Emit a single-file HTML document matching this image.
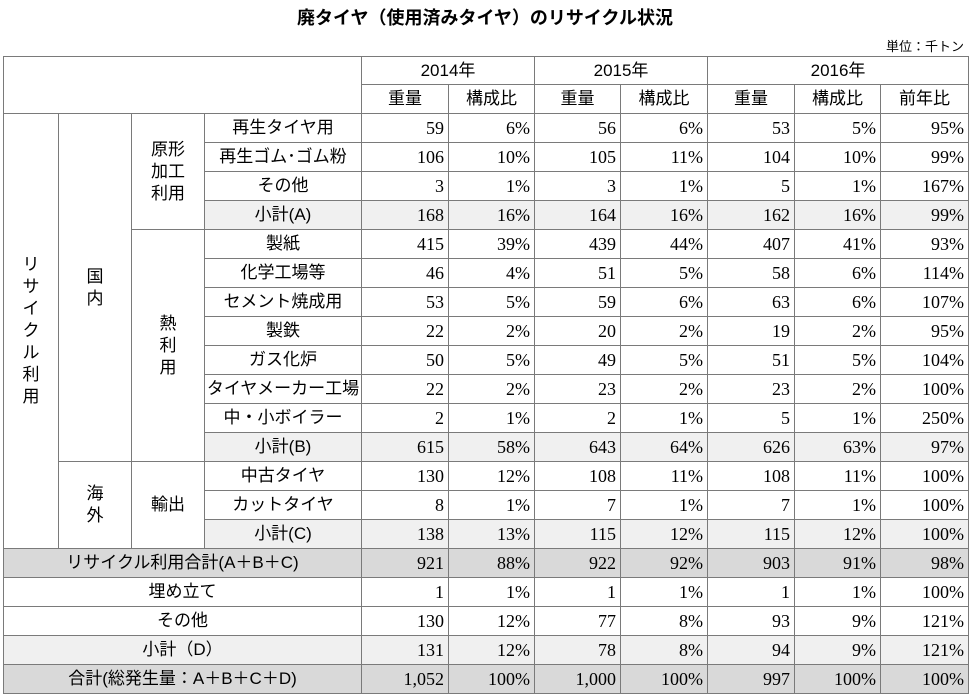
<!DOCTYPE html>
<html><head><meta charset="utf-8"><style>
body{margin:0;width:970px;height:696px;background:#fff;position:relative;overflow:hidden;font-family:"Liberation Sans","Noto Sans CJK JP",sans-serif;}
.title{position:absolute;top:4px;left:0;width:970px;text-align:center;font-size:18px;font-weight:bold;}
.unit{position:absolute;top:36px;right:6px;font-size:13px;}
table{position:absolute;left:3px;top:56px;border-collapse:collapse;table-layout:fixed;width:965px;}
td{border:1px solid #7a7a7a;padding:0;font-size:17px;height:28px;text-align:center;line-height:20px;}
td.n{font-family:"Liberation Serif",serif;font-size:18px;text-align:right;padding-right:4px;}
tr.h1 td{height:27px;}
tr.h2 td{height:28px;}
.g td.s,.g td.n{background:#f0f0f0;}
.t td{background:#d9d9d9;}
.l td{background:#f0f0f0;}
.v{line-height:22px;}
</style></head><body>
<div class="title">廃タイヤ（使用済みタイヤ）のリサイクル状況</div>
<div class="unit">単位：千トン</div>
<table>
<colgroup><col style="width:55px"><col style="width:73px"><col style="width:73px"><col style="width:157px"><col style="width:87px"><col style="width:86px"><col style="width:86px"><col style="width:87px"><col style="width:87px"><col style="width:86px"><col style="width:88px"></colgroup>
<tr class="h1"><td colspan="4" rowspan="2"></td><td colspan="2">2014年</td><td colspan="2">2015年</td><td colspan="3">2016年</td></tr>
<tr class="h2"><td>重量</td><td>構成比</td><td>重量</td><td>構成比</td><td>重量</td><td>構成比</td><td>前年比</td></tr>
<tr><td rowspan="15" class="v">リ<br>サ<br>イ<br>ク<br>ル<br>利<br>用</td><td rowspan="12" class="v">国<br>内</td><td rowspan="4" class="v">原形<br>加工<br>利用</td><td>再生タイヤ用</td><td class="n">59</td><td class="n">6%</td><td class="n">56</td><td class="n">6%</td><td class="n">53</td><td class="n">5%</td><td class="n">95%</td></tr>
<tr><td>再生ゴム･ゴム粉</td><td class="n">106</td><td class="n">10%</td><td class="n">105</td><td class="n">11%</td><td class="n">104</td><td class="n">10%</td><td class="n">99%</td></tr>
<tr><td>その他</td><td class="n">3</td><td class="n">1%</td><td class="n">3</td><td class="n">1%</td><td class="n">5</td><td class="n">1%</td><td class="n">167%</td></tr>
<tr class="g"><td class="s">小計(A)</td><td class="n">168</td><td class="n">16%</td><td class="n">164</td><td class="n">16%</td><td class="n">162</td><td class="n">16%</td><td class="n">99%</td></tr>
<tr><td rowspan="8" class="v">熱<br>利<br>用</td><td>製紙</td><td class="n">415</td><td class="n">39%</td><td class="n">439</td><td class="n">44%</td><td class="n">407</td><td class="n">41%</td><td class="n">93%</td></tr>
<tr><td>化学工場等</td><td class="n">46</td><td class="n">4%</td><td class="n">51</td><td class="n">5%</td><td class="n">58</td><td class="n">6%</td><td class="n">114%</td></tr>
<tr><td>セメント焼成用</td><td class="n">53</td><td class="n">5%</td><td class="n">59</td><td class="n">6%</td><td class="n">63</td><td class="n">6%</td><td class="n">107%</td></tr>
<tr><td>製鉄</td><td class="n">22</td><td class="n">2%</td><td class="n">20</td><td class="n">2%</td><td class="n">19</td><td class="n">2%</td><td class="n">95%</td></tr>
<tr><td>ガス化炉</td><td class="n">50</td><td class="n">5%</td><td class="n">49</td><td class="n">5%</td><td class="n">51</td><td class="n">5%</td><td class="n">104%</td></tr>
<tr><td>タイヤメーカー工場</td><td class="n">22</td><td class="n">2%</td><td class="n">23</td><td class="n">2%</td><td class="n">23</td><td class="n">2%</td><td class="n">100%</td></tr>
<tr><td>中・小ボイラー</td><td class="n">2</td><td class="n">1%</td><td class="n">2</td><td class="n">1%</td><td class="n">5</td><td class="n">1%</td><td class="n">250%</td></tr>
<tr class="g"><td class="s">小計(B)</td><td class="n">615</td><td class="n">58%</td><td class="n">643</td><td class="n">64%</td><td class="n">626</td><td class="n">63%</td><td class="n">97%</td></tr>
<tr><td rowspan="3" class="v">海<br>外</td><td rowspan="3">輸出</td><td>中古タイヤ</td><td class="n">130</td><td class="n">12%</td><td class="n">108</td><td class="n">11%</td><td class="n">108</td><td class="n">11%</td><td class="n">100%</td></tr>
<tr><td>カットタイヤ</td><td class="n">8</td><td class="n">1%</td><td class="n">7</td><td class="n">1%</td><td class="n">7</td><td class="n">1%</td><td class="n">100%</td></tr>
<tr class="g"><td class="s">小計(C)</td><td class="n">138</td><td class="n">13%</td><td class="n">115</td><td class="n">12%</td><td class="n">115</td><td class="n">12%</td><td class="n">100%</td></tr>
<tr class="t"><td colspan="4">リサイクル利用合計(A＋B＋C)</td><td class="n">921</td><td class="n">88%</td><td class="n">922</td><td class="n">92%</td><td class="n">903</td><td class="n">91%</td><td class="n">98%</td></tr>
<tr><td colspan="4">埋め立て</td><td class="n">1</td><td class="n">1%</td><td class="n">1</td><td class="n">1%</td><td class="n">1</td><td class="n">1%</td><td class="n">100%</td></tr>
<tr><td colspan="4">その他</td><td class="n">130</td><td class="n">12%</td><td class="n">77</td><td class="n">8%</td><td class="n">93</td><td class="n">9%</td><td class="n">121%</td></tr>
<tr class="l"><td colspan="4">小計（D）</td><td class="n">131</td><td class="n">12%</td><td class="n">78</td><td class="n">8%</td><td class="n">94</td><td class="n">9%</td><td class="n">121%</td></tr>
<tr class="t"><td colspan="4">合計(総発生量：A＋B＋C＋D)</td><td class="n">1,052</td><td class="n">100%</td><td class="n">1,000</td><td class="n">100%</td><td class="n">997</td><td class="n">100%</td><td class="n">100%</td></tr>
</table>
</body></html>
